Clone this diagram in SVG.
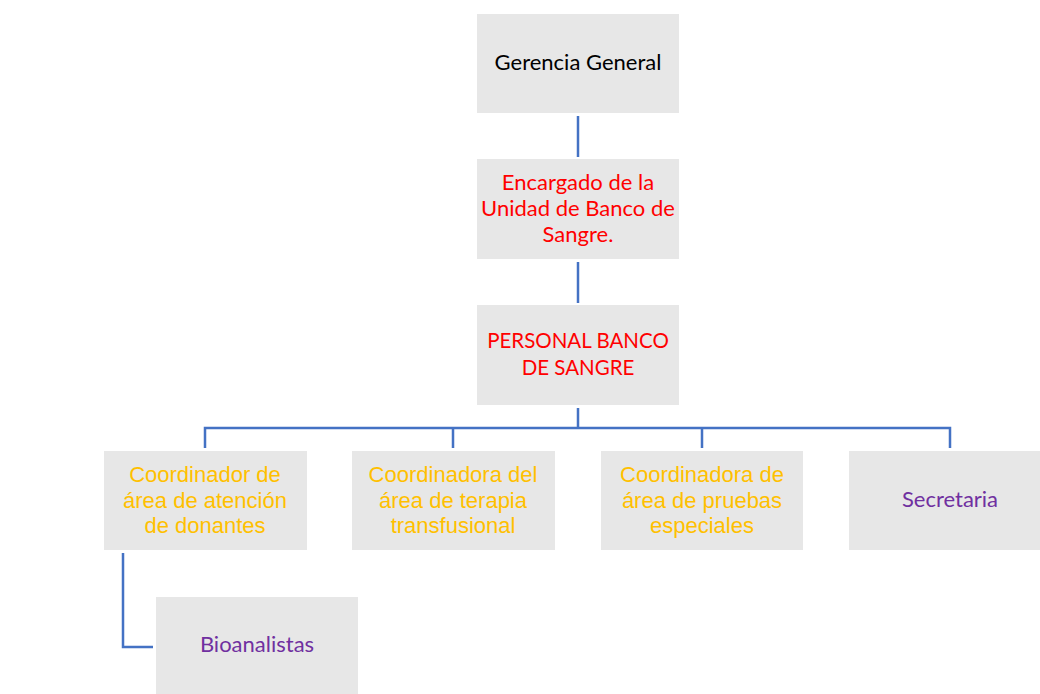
<svg xmlns="http://www.w3.org/2000/svg" width="1040" height="694" viewBox="0 0 1040 694">
<style>
.box{fill:#e7e7e7}
.c{fill:none;stroke:#4472c4;stroke-width:2.5}
.cal{font-family:Lato,"Noto Sans",sans-serif;font-size:22px;text-anchor:middle}
.caps{font-size:20.5px}
.ar{font-family:"Liberation Sans",Arial,sans-serif;font-size:22px;text-anchor:middle;fill:#ffc000}
.red{fill:#ff0000}
.blk{fill:#000000}
.pur{fill:#7030a0}
</style>
<rect width="1040" height="694" fill="#ffffff"/>
<g id="connectors">
<line class="c" x1="578" y1="116" x2="578" y2="157"/>
<line class="c" x1="578" y1="262" x2="578" y2="303"/>
<path class="c" d="M578 408 V428 M205 448 V428 H950 V448 M453 428 V448 M702 428 V448"/>
<path class="c" d="M123 553 V647 H153"/>
</g>
<g id="gerencia">
<rect class="box" x="477" y="14" width="202" height="99"/>
<text class="cal blk" x="578" y="70">Gerencia General</text>
</g>
<g id="encargado">
<rect class="box" x="477" y="159" width="202" height="100"/>
<text class="cal red" x="578" y="190">Encargado de la</text>
<text class="cal red" x="578" y="216">Unidad de Banco de</text>
<text class="cal red" x="578" y="242">Sangre.</text>
</g>
<g id="personal">
<rect class="box" x="477" y="305" width="202" height="100"/>
<text class="cal caps red" x="578" y="348">PERSONAL BANCO</text>
<text class="cal caps red" x="578" y="375">DE SANGRE</text>
</g>
<g id="coord-donantes">
<rect class="box" x="104" y="451" width="203" height="99"/>
<text class="ar" x="205" y="482">Coordinador de</text>
<text class="ar" x="205" y="507.5">área de atención</text>
<text class="ar" x="205" y="533">de donantes</text>
</g>
<g id="coord-terapia">
<rect class="box" x="352" y="451" width="203" height="99"/>
<text class="ar" x="453" y="482">Coordinadora del</text>
<text class="ar" x="453" y="507.5">área de terapia</text>
<text class="ar" x="453" y="533">transfusional</text>
</g>
<g id="coord-pruebas">
<rect class="box" x="601" y="451" width="202" height="99"/>
<text class="ar" x="702" y="482">Coordinadora de</text>
<text class="ar" x="702" y="507.5">área de pruebas</text>
<text class="ar" x="702" y="533">especiales</text>
</g>
<g id="secretaria">
<rect class="box" x="849" y="451" width="203" height="99"/>
<text class="cal pur" x="950" y="507">Secretaria</text>
</g>
<g id="bioanalistas">
<rect class="box" x="156" y="597" width="202" height="100"/>
<text class="cal pur" x="257" y="652">Bioanalistas</text>
</g>
</svg>
